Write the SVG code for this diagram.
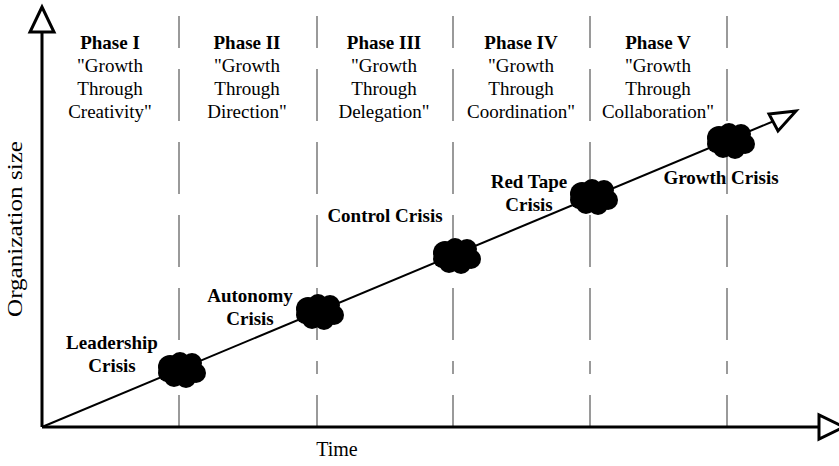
<svg xmlns="http://www.w3.org/2000/svg" width="839" height="466" viewBox="0 0 839 466">
<style>
.ph{font-family:"Liberation Serif",serif;font-weight:bold;font-size:19px;text-anchor:middle;fill:#000}
.tx{font-family:"Liberation Serif",serif;font-size:19px;text-anchor:middle;fill:#000}
.cr{font-family:"Liberation Serif",serif;font-weight:bold;font-size:19px;text-anchor:middle;fill:#000}
.ax{font-family:"Liberation Serif",serif;font-size:20px;text-anchor:middle;fill:#000}
.dash{stroke:#7a7a7a;stroke-width:1.5;fill:none}
.axis{stroke:#000;stroke-width:3;fill:none}
.head{stroke:#000;stroke-width:3;fill:#fff;stroke-linejoin:miter}
</style>
<defs>
<path id="dl" d="M0,16V48M0,69V121M0,142V194M0,215V267M0,288V340M0,361V374M0,395V427"/>
<g id="cloud">
<circle cx="-12" cy="-3" r="12"/>
<circle cx="-2" cy="-8" r="10"/>
<circle cx="10" cy="-7" r="10"/>
<circle cx="14" cy="3" r="10"/>
<circle cx="4" cy="8" r="10"/>
<circle cx="-8" cy="7" r="10"/>
<circle cx="-15" cy="3" r="9"/>
</g>
</defs>
<g id="dividers" class="dash">
<use href="#dl" x="179"/>
<use href="#dl" x="317"/>
<use href="#dl" x="453"/>
<use href="#dl" x="590"/>
<use href="#dl" x="727"/>
</g>
<g id="connectors">
<line x1="42" y1="427" x2="774" y2="121" stroke="#000" stroke-width="2"/>
<polygon class="head" points="796,111 769,114 778,131"/>
<line class="axis" x1="42" y1="427" x2="42" y2="32"/>
<polygon class="head" points="42,7 30,32 54,32"/>
<line class="axis" x1="42" y1="427" x2="819" y2="427"/>
<polygon class="head" points="844,427 819,415 819,439"/>
</g>
<g id="phase1"><text class="ph" x="110" y="49">Phase I</text><text class="tx" x="110" y="72">"Growth</text><text class="tx" x="110" y="95">Through</text><text class="tx" x="110" y="118">Creativity"</text></g>
<g id="phase2"><text class="ph" x="247" y="49">Phase II</text><text class="tx" x="247" y="72">"Growth</text><text class="tx" x="247" y="95">Through</text><text class="tx" x="247" y="118">Direction"</text></g>
<g id="phase3"><text class="ph" x="384" y="49">Phase III</text><text class="tx" x="384" y="72">"Growth</text><text class="tx" x="384" y="95">Through</text><text class="tx" x="384" y="118">Delegation"</text></g>
<g id="phase4"><text class="ph" x="521" y="49">Phase IV</text><text class="tx" x="521" y="72">"Growth</text><text class="tx" x="521" y="95">Through</text><text class="tx" x="521" y="118">Coordination"</text></g>
<g id="phase5"><text class="ph" x="658" y="49">Phase V</text><text class="tx" x="658" y="72">"Growth</text><text class="tx" x="658" y="95">Through</text><text class="tx" x="658" y="118">Collaboration"</text></g>
<g id="crisis1"><use href="#cloud" x="182" y="370"/><text class="cr" x="112" y="349">Leadership</text><text class="cr" x="112" y="372">Crisis</text></g>
<g id="crisis2"><use href="#cloud" x="320" y="312"/><text class="cr" x="250" y="302">Autonomy</text><text class="cr" x="250" y="325">Crisis</text></g>
<g id="crisis3"><use href="#cloud" x="457" y="256"/><text class="cr" x="385" y="222">Control Crisis</text></g>
<g id="crisis4"><use href="#cloud" x="594" y="197"/><text class="cr" x="529" y="188">Red Tape</text><text class="cr" x="529" y="211">Crisis</text></g>
<g id="crisis5"><use href="#cloud" x="731" y="141"/><text class="cr" x="721" y="184">Growth Crisis</text></g>
<g id="labels"><text class="ax" x="337" y="456">Time</text><text class="ax" font-size="21" transform="translate(22,229) rotate(-90)" textLength="176" lengthAdjust="spacingAndGlyphs">Organization size</text></g>
</svg>
